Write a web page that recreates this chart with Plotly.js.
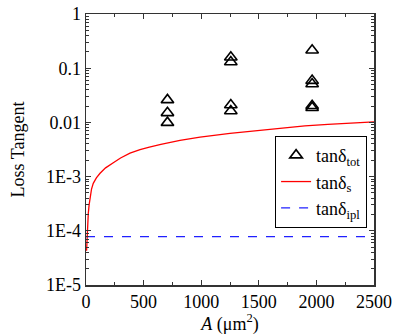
<!DOCTYPE html>
<html>
<head>
<meta charset="utf-8">
<script src="https://cdn.plot.ly/plotly-3.0.1.min.js"></script>
<style>html,body{margin:0;padding:0;background:#fff;}#chart{width:394px;height:335px;}</style>
</head>
<body>
<div id="chart"></div>
<script>
// Measured total loss tangent
const areaTot = [707, 707, 707, 1257, 1257, 1257, 1257, 1963, 1963, 1963, 1963, 1963];
const tanTot  = [0.026, 0.015, 0.0099, 0.159, 0.13, 0.021, 0.0162, 0.214, 0.059, 0.051, 0.0203, 0.0186];
// Surface loss tangent curve
const areaS = [5, 8, 11, 15, 20, 27, 35, 48, 63, 90, 122, 170, 237, 300, 382, 469, 550, 650, 816, 990, 1250, 1450, 1684, 1900, 2100, 2300, 2500];
const tanS  = [4.3e-5, 7.0e-5, 1.03e-4, 1.5e-4, 2.1e-4, 3.0e-4, 4.3e-4, 5.9e-4, 7.5e-4, 9.5e-4, 1.15e-3, 1.45e-3, 1.8e-3, 2.2e-3, 2.7e-3, 3.15e-3, 3.5e-3, 3.95e-3, 4.65e-3, 5.35e-3, 6.3e-3, 7.0e-3, 7.9e-3, 8.6e-3, 9.2e-3, 9.7e-3, 1.02e-2];
// Interface (ipl) loss tangent, constant
const areaIpl = [0, 2500];
const tanIpl  = [7.8e-5, 7.8e-5];
// Tick labels
const yTickVals = [1e-5, 1e-4, 1e-3, 0.01, 0.1, 1];
const yTickText = ["1E-5", "1E-4", "1E-3", "0.01", "0.1", "1"];

const FAM = "Liberation Serif";
const mk = (s) => ({family: FAM, size: s, color: "#000"});

const traces = [
  {x: areaTot, y: tanTot, type: "scatter", mode: "markers", name: "tanδ<sub>tot</sub>",
   marker: {symbol: "triangle-up-open", size: 11, color: "#000", line: {width: 1.6, color: "#000"}}},
  {x: areaS, y: tanS, type: "scatter", mode: "lines", name: "tanδ<sub>s</sub>",
   line: {color: "#ff0000", width: 1.3}},
  {x: areaIpl, y: tanIpl, type: "scatter", mode: "lines", name: "tanδ<sub>ipl</sub>",
   line: {color: "#2020ff", width: 1.3, dash: "dash"}}
];

const layout = {
  width: 394, height: 335,
  margin: {l: 86, r: 20, t: 14, b: 50},
  paper_bgcolor: "#fff", plot_bgcolor: "#fff",
  font: mk(18),
  showlegend: true,
  legend: {x: 0.976, y: 0.55, xanchor: "right", yanchor: "top",
           bordercolor: "#000", borderwidth: 1, bgcolor: "#fff",
           font: mk(18), tracegroupgap: 0},
  xaxis: {range: [0, 2500], tickmode: "linear", tick0: 0, dtick: 500,
          ticks: "inside", ticklen: 5, tickwidth: 1, tickcolor: "#333",
          showline: true, linecolor: "#333", linewidth: 1.5, mirror: "ticks",
          showgrid: false, zeroline: false, tickfont: mk(18),
          minor: {dtick: 250, ticks: "inside", ticklen: 3, tickcolor: "#333", showgrid: false},
          title: {text: "<i>A</i> (μm<sup>2</sup>)", font: mk(18), standoff: 14}},
  yaxis: {type: "log", range: [-5, 0], tickmode: "array", tickvals: yTickVals, ticktext: yTickText,
          ticks: "inside", ticklen: 5, tickwidth: 1, tickcolor: "#333",
          showline: true, linecolor: "#333", linewidth: 1.5, mirror: "ticks",
          showgrid: false, zeroline: false, tickfont: mk(18),
          minor: {dtick: "D1", ticks: "inside", ticklen: 3, tickcolor: "#333", showgrid: false},
          title: {text: "Loss Tangent", font: mk(18), standoff: 16}}
};

Plotly.newPlot("chart", traces, layout, {displayModeBar: false, staticPlot: true});
</script>
</body>
</html>
